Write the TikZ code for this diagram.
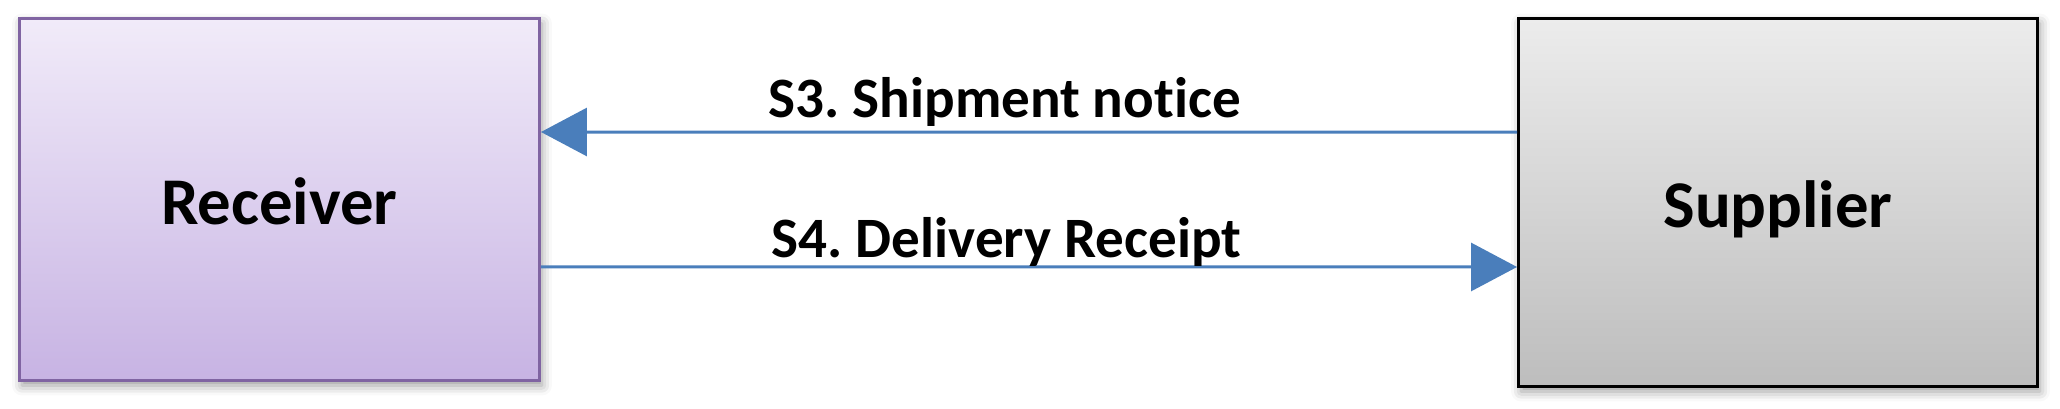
\documentclass[tikz,border=0pt]{standalone}
\usepackage{fontspec}
\setmainfont{Carlito}[Ligatures=NoCommon]
\usetikzlibrary{arrows.meta, shadows.blur}
\definecolor{RcvTop}{RGB}{241,235,249}
\definecolor{RcvBot}{RGB}{199,179,227}
\definecolor{RcvLine}{RGB}{128,100,162}
\definecolor{SupTop}{RGB}{236,236,236}
\definecolor{SupBot}{RGB}{189,189,189}
\definecolor{FlowBlue}{RGB}{74,126,187}
\frenchspacing
\begin{document}
\begin{tikzpicture}[x=0.02cm, y=-0.02cm,
	party/.style={rectangle, line width=0.06cm, font=\fontsize{38}{46}\selectfont\bfseries,
		text height=1.0cm, text depth=0pt,
		blur shadow={shadow xshift=0.05cm, shadow yshift=-0.1cm, shadow blur radius=0.2cm, shadow opacity=40}},
	flow/.style={draw=FlowBlue, line width=0.06cm, -{Triangle[length=0.92cm, width=0.96cm]}},
	msg/.style={font=\fontsize{32.5}{38}\selectfont\bfseries, anchor=base, inner sep=0pt}]
	\useasboundingbox (0,0) rectangle (2060,409);
	\node[party, draw=RcvLine, top color=RcvTop, bottom color=RcvBot, minimum width=10.4cm, minimum height=7.24cm] (rcv) at (279.5,199.5) {Receiver};
	\node[party, draw=black, top color=SupTop, bottom color=SupBot, minimum width=10.38cm, minimum height=7.36cm] (sup) at (1778,202.5) {Supplier};
	\draw[flow] ([yshift=1.41cm]sup.west) -- node[msg, pos=0.525, yshift=0.3cm] {S3. Shipment notice} ([yshift=1.35cm]rcv.east);
	\draw[flow] ([yshift=-1.35cm]rcv.east) -- node[msg, pos=0.477, yshift=0.18cm] {S4. Delivery Receipt} ([yshift=-1.29cm]sup.west);
\end{tikzpicture}
\end{document}
